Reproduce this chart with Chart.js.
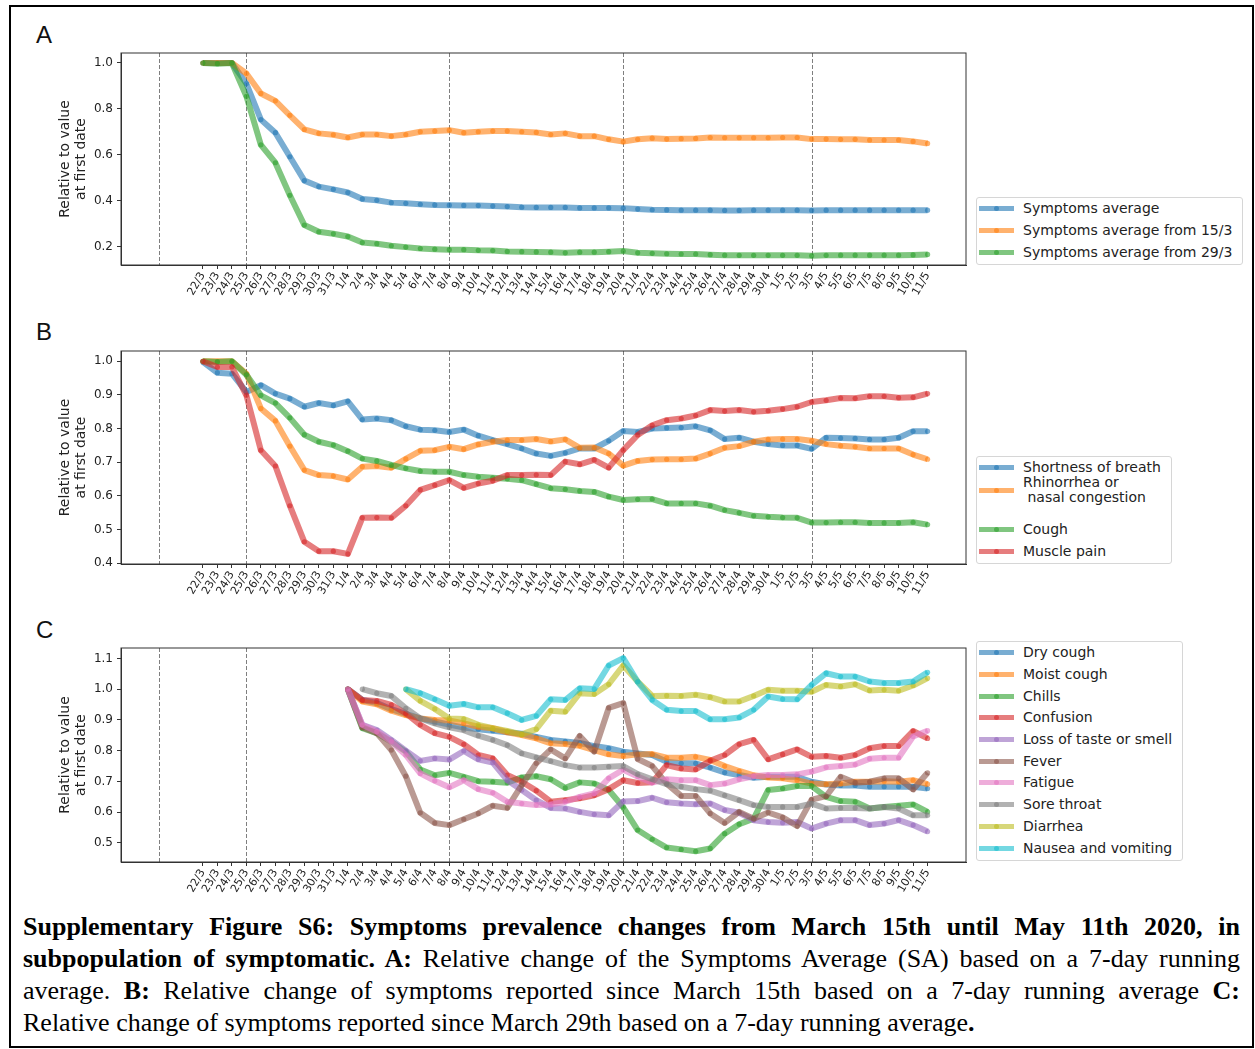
<!DOCTYPE html>
<html>
<head>
<meta charset="utf-8">
<title>Symptoms prevalence changes</title>
<script src="https://cdn.jsdelivr.net/npm/chart.js@4.4.1/dist/chart.umd.min.js"></script>
<style>
    body {
        margin: 0;
        width: 1255px;
        height: 1049px;
        position: relative;
        overflow: hidden;
        background: #fff;
        font-family: "DejaVu Sans", sans-serif;
    }

    .frame {
        position: absolute;
        left: 9px;
        top: 5px;
        width: 1241px;
        height: 1039px;
        border: 2px solid #000;
    }

    .panel-letter {
        position: absolute;
        left: 36px;
        font: 24px/24px "Liberation Sans", Arial, sans-serif;
        color: #111;
    }

    .chart-box {
        position: absolute;
        left: 0;
    }

    .legend-container {
        position: absolute;
        left: 976px;
        border: 1px solid #d6d6d6;
        border-radius: 3px;
        padding: 0 10px 1px 2px;
        background: #fff;
    }

    .legend-label {
        display: flex;
        align-items: center;
        height: 21.7px;
        font-size: 14px;
        color: #222;
        white-space: pre;
    }

    .legend-color {
        flex: none;
        width: 35px;
        height: 5px;
        margin-right: 9px;
        position: relative;
    }

    .legend-color::after {
        content: "";
        position: absolute;
        left: 15px;
        top: 0;
        width: 5px;
        height: 5px;
        border-radius: 50%;
        background: inherit;
    }

    .legend-text {
        line-height: 15px;
    }

    .caption {
        position: absolute;
        left: 23px;
        top: 911px;
        width: 1217px;
        font-family: "Liberation Serif", "Times New Roman", serif;
        font-size: 26px;
        line-height: 32px;
        color: #000;
    }

    .cap-line {
        text-align: justify;
        text-align-last: justify;
    }

    .cap-line.last {
        text-align-last: left;
    }
</style>
</head>
<body>
<div class="frame"></div>

<div class="panel-letter" style="top:23px">A</div>
<div class="panel-letter" style="top:320px">B</div>
<div class="panel-letter" style="top:618px">C</div>

<canvas class="chart-box my-chartA" width="970" height="268" style="top:40px"></canvas>
<canvas class="chart-box my-chartB" width="970" height="270" style="top:338px"></canvas>
<canvas class="chart-box my-chartC" width="970" height="270" style="top:636px"></canvas>

<div class="legend-container legendA" style="top:197px"></div>
<div class="legend-container legendB" style="top:456px"></div>
<div class="legend-container legendC" style="top:641px"></div>

<div class="caption">
    <div class="cap-line"><b>Supplementary Figure S6: Symptoms prevalence changes from March 15th until May 11th 2020, in</b></div>
    <div class="cap-line"><b>subpopulation of symptomatic. A:</b> Relative change of the Symptoms Average (SA) based on a 7-day running</div>
    <div class="cap-line">average. <b>B:</b> Relative change of symptoms reported since March 15th based on a 7-day running average <b>C:</b></div>
    <div class="cap-line last">Relative change of symptoms reported since March 29th based on a 7-day running average<b>.</b></div>
</div>

<script>
// x axis: one tick per day, 22/3 is day 0
const dayLabels = [
    "22/3", "23/3", "24/3", "25/3", "26/3", "27/3", "28/3", "29/3", "30/3", "31/3",
    "1/4", "2/4", "3/4", "4/4", "5/4", "6/4", "7/4", "8/4", "9/4", "10/4",
    "11/4", "12/4", "13/4", "14/4", "15/4", "16/4", "17/4", "18/4", "19/4", "20/4",
    "21/4", "22/4", "23/4", "24/4", "25/4", "26/4", "27/4", "28/4", "29/4", "30/4",
    "1/5", "2/5", "3/5", "4/5", "5/5", "6/5", "7/5", "8/5", "9/5", "10/5", "11/5",
];

// dashed vertical lines (day index, 19/3 = -3)
const eventDays = [-3, 3, 17, 29, 42];

// y tick labels for each panel
const yTicksA = [0.2, 0.4, 0.6, 0.8, 1.0];
const yTicksB = [0.4, 0.5, 0.6, 0.7, 0.8, 0.9, 1.0];
const yTicksC = [0.5, 0.6, 0.7, 0.8, 0.9, 1.0, 1.1];

// Panel A data (from 22/3)
const labelsA = ["Symptoms average", "Symptoms average from 15/3", "Symptoms average from 29/3"];
const symptomsAverage = [
    1.0, 1.0, 1.0, 0.91, 0.753, 0.696, 0.591, 0.487, 0.461, 0.449,
    0.435, 0.407, 0.401, 0.391, 0.388, 0.384, 0.381, 0.38, 0.379, 0.378,
    0.376, 0.374, 0.371, 0.37, 0.37, 0.37, 0.368, 0.368, 0.368, 0.367,
    0.363, 0.36, 0.359, 0.358, 0.358, 0.358, 0.357, 0.357, 0.358, 0.358,
    0.358, 0.358, 0.357, 0.358, 0.358, 0.358, 0.358, 0.358, 0.358, 0.358, 0.358,
];
const symptomsFrom15 = [
    1.0, 1.0, 1.0, 0.954, 0.867, 0.835, 0.772, 0.71, 0.693, 0.687,
    0.675, 0.688, 0.688, 0.681, 0.688, 0.70, 0.703, 0.707, 0.696, 0.70,
    0.703, 0.703, 0.70, 0.697, 0.688, 0.693, 0.681, 0.681, 0.667, 0.657,
    0.667, 0.672, 0.668, 0.67, 0.671, 0.675, 0.674, 0.674, 0.674, 0.674,
    0.675, 0.675, 0.668, 0.668, 0.667, 0.667, 0.664, 0.664, 0.664, 0.658, 0.649,
];
const symptomsFrom29 = [
    1.0, 0.997, 1.0, 0.855, 0.643, 0.565, 0.423, 0.293, 0.264, 0.255,
    0.243, 0.217, 0.212, 0.203, 0.197, 0.191, 0.188, 0.186, 0.186, 0.183,
    0.182, 0.178, 0.177, 0.176, 0.175, 0.172, 0.175, 0.175, 0.177, 0.18,
    0.172, 0.17, 0.168, 0.167, 0.167, 0.164, 0.162, 0.161, 0.161, 0.161,
    0.161, 0.161, 0.159, 0.161, 0.162, 0.162, 0.162, 0.162, 0.162, 0.163, 0.165,
];

// Panel B data (from 22/3)
const labelsB = ["Shortness of breath", "Rhinorrhea or\n nasal congestion", "Cough", "Muscle pain"];
const shortnessOfBreath = [
    0.998, 0.966, 0.963, 0.909, 0.929, 0.904, 0.889, 0.865, 0.876, 0.869,
    0.881, 0.827, 0.83, 0.825, 0.807, 0.797, 0.795, 0.79, 0.797, 0.779,
    0.766, 0.754, 0.741, 0.726, 0.719, 0.728, 0.741, 0.741, 0.764, 0.793,
    0.79, 0.80, 0.802, 0.803, 0.807, 0.795, 0.769, 0.773, 0.761, 0.754,
    0.75, 0.75, 0.74, 0.773, 0.772, 0.771, 0.768, 0.768, 0.773, 0.792, 0.792,
];
const rhinorrhea = [
    1.0, 1.0, 1.0, 0.963, 0.86, 0.823, 0.748, 0.677, 0.662, 0.659,
    0.649, 0.687, 0.689, 0.684, 0.71, 0.734, 0.736, 0.746, 0.739, 0.753,
    0.761, 0.766, 0.766, 0.769, 0.762, 0.768, 0.743, 0.744, 0.726, 0.69,
    0.704, 0.708, 0.709, 0.709, 0.711, 0.726, 0.743, 0.748, 0.761, 0.768,
    0.769, 0.769, 0.764, 0.754, 0.749, 0.746, 0.741, 0.741, 0.741, 0.723, 0.709,
];
const cough = [
    1.0, 0.998, 1.0, 0.96, 0.899, 0.876, 0.832, 0.782, 0.761, 0.751,
    0.733, 0.711, 0.704, 0.692, 0.682, 0.674, 0.672, 0.672, 0.662, 0.657,
    0.654, 0.651, 0.647, 0.635, 0.623, 0.62, 0.615, 0.612, 0.598, 0.588,
    0.59, 0.591, 0.578, 0.578, 0.578, 0.571, 0.558, 0.55, 0.541, 0.538,
    0.536, 0.535, 0.521, 0.521, 0.522, 0.522, 0.52, 0.52, 0.52, 0.522, 0.515,
];
const musclePain = [
    1.0, 0.983, 0.983, 0.899, 0.736, 0.689, 0.571, 0.464, 0.436, 0.436,
    0.428, 0.535, 0.536, 0.535, 0.571, 0.618, 0.632, 0.647, 0.624, 0.637,
    0.645, 0.662, 0.662, 0.663, 0.662, 0.702, 0.694, 0.707, 0.684, 0.736,
    0.781, 0.81, 0.825, 0.83, 0.839, 0.855, 0.852, 0.855, 0.85, 0.853,
    0.858, 0.865, 0.879, 0.884, 0.891, 0.89, 0.896, 0.896, 0.892, 0.893, 0.904,
];

// Panel C data (series start on different days, see startC)
const labelsC = ["Dry cough", "Moist cough", "Chills", "Confusion", "Loss of taste or smell",
    "Fever", "Fatigue", "Sore throat", "Diarrhea", "Nausea and vomiting"];
const startC = [10, 10, 10, 10, 10, 10, 10, 11, 14, 14];
const dryCough = [
    1.0, 0.965, 0.955, 0.935, 0.92, 0.905, 0.895, 0.885,
    0.875, 0.87, 0.865, 0.86, 0.855, 0.845, 0.835, 0.83, 0.825, 0.815, 0.808,
    0.797, 0.791, 0.786, 0.764, 0.759, 0.759, 0.745,
    0.729, 0.721, 0.712, 0.715, 0.715, 0.715, 0.699,
    0.69, 0.687, 0.687, 0.683, 0.683, 0.683, 0.683, 0.677,
];
const moistCough = [
    1.0, 0.96, 0.951, 0.93, 0.916, 0.905, 0.9, 0.898,
    0.889, 0.878, 0.873, 0.86, 0.851, 0.84, 0.824, 0.822, 0.816, 0.802, 0.788,
    0.783, 0.788, 0.789, 0.777, 0.777, 0.78, 0.77,
    0.75, 0.734, 0.72, 0.713, 0.71, 0.704, 0.693,
    0.691, 0.693, 0.699, 0.699, 0.701, 0.699, 0.704, 0.691,
];
const chills = [
    1.0, 0.873, 0.857, 0.829, 0.797, 0.739, 0.72, 0.728,
    0.715, 0.701, 0.699, 0.696, 0.713, 0.717, 0.707, 0.679, 0.697, 0.693, 0.672,
    0.616, 0.542, 0.512, 0.485, 0.479, 0.473, 0.482,
    0.53, 0.561, 0.579, 0.672, 0.677, 0.685, 0.685,
    0.65, 0.636, 0.634, 0.612, 0.617, 0.621, 0.625, 0.601,
];
const confusion = [
    1.0, 0.965, 0.962, 0.949, 0.922, 0.884, 0.857, 0.845,
    0.821, 0.786, 0.775, 0.721, 0.699, 0.67, 0.634, 0.639, 0.645, 0.655, 0.675,
    0.704, 0.695, 0.697, 0.753, 0.742, 0.739, 0.767,
    0.786, 0.821, 0.835, 0.772, 0.788, 0.804, 0.78,
    0.783, 0.777, 0.786, 0.808, 0.815, 0.815, 0.864, 0.84,
];
const lossOfTaste = [
    1.0, 0.884, 0.867, 0.835, 0.8, 0.767, 0.775, 0.771,
    0.799, 0.772, 0.761, 0.704, 0.672, 0.639, 0.614, 0.612, 0.601, 0.593, 0.59,
    0.635, 0.636, 0.647, 0.632, 0.628, 0.626, 0.628,
    0.607, 0.598, 0.574, 0.568, 0.566, 0.568, 0.547,
    0.563, 0.574, 0.574, 0.558, 0.563, 0.574, 0.558, 0.537,
];
const fever = [
    1.0, 0.876, 0.857, 0.802, 0.717, 0.598, 0.565, 0.558,
    0.577, 0.596, 0.621, 0.614, 0.688, 0.759, 0.804, 0.775, 0.848, 0.797, 0.939,
    0.955, 0.773, 0.75, 0.693, 0.653, 0.653, 0.596,
    0.565, 0.601, 0.579, 0.599, 0.583, 0.555, 0.641,
    0.652, 0.715, 0.696, 0.699, 0.71, 0.71, 0.674, 0.728,
];
const fatigue = [
    1.0, 0.884, 0.862, 0.829, 0.786, 0.726, 0.702, 0.681,
    0.704, 0.675, 0.663, 0.634, 0.628, 0.623, 0.625, 0.634, 0.65, 0.661, 0.71,
    0.738, 0.716, 0.696, 0.707, 0.704, 0.704, 0.688,
    0.693, 0.707, 0.717, 0.721, 0.721, 0.723, 0.732,
    0.746, 0.75, 0.755, 0.774, 0.777, 0.777, 0.846, 0.865,
];
const soreThroat = [
    1.0, 0.987, 0.978, 0.938, 0.905, 0.889, 0.876,
    0.867, 0.849, 0.835, 0.818, 0.791, 0.778, 0.766, 0.753, 0.745, 0.745, 0.748,
    0.75, 0.724, 0.707, 0.691, 0.683, 0.675, 0.67,
    0.655, 0.639, 0.623, 0.617, 0.617, 0.617, 0.628,
    0.612, 0.614, 0.614, 0.612, 0.617, 0.612, 0.59, 0.59,
];
const diarrhea = [
    1.0, 0.962, 0.936, 0.905,
    0.903, 0.884, 0.873, 0.864, 0.853, 0.87, 0.93, 0.927, 0.987, 0.984, 1.016,
    1.077, 1.025, 0.978, 0.979, 0.978, 0.982, 0.974,
    0.96, 0.96, 0.978, 0.998, 0.995, 0.995, 0.992,
    1.014, 1.009, 1.016, 0.996, 0.998, 0.995, 1.012, 1.036,
];
const nausea = [
    1.0, 0.987, 0.967, 0.946,
    0.952, 0.941, 0.941, 0.922, 0.9, 0.913, 0.967, 0.965, 1.003, 1.001, 1.077,
    1.101, 1.024, 0.965, 0.933, 0.929, 0.929, 0.902,
    0.902, 0.908, 0.933, 0.976, 0.968, 0.967, 1.014,
    1.052, 1.041, 1.041, 1.025, 1.02, 1.02, 1.025, 1.055,
];

// matplotlib tab10, drawn with alpha 0.6
const colors = [
    "rgba(31,119,180,0.6)", "rgba(255,127,14,0.6)", "rgba(44,160,44,0.6)", "rgba(214,39,40,0.6)",
    "rgba(148,103,189,0.6)", "rgba(140,86,75,0.6)", "rgba(227,119,194,0.6)", "rgba(127,127,127,0.6)",
    "rgba(188,189,34,0.6)", "rgba(23,190,207,0.6)",
];

const fontFamily = "'DejaVu Sans', sans-serif";
const axisColor = "#333";
const textColor = "#222";

function toPoints(values, startDay) {
    return values.map((v, i) => ({ x: startDay + i, y: v }));
}

function makeDatasets(labels, series, starts) {
    return series.map((values, index) => ({
        label: labels[index],
        data: toPoints(values, starts ? starts[index] : 0),
        borderColor: colors[index],
        backgroundColor: colors[index],
        borderWidth: 6,
        borderJoinStyle: "round",
        pointRadius: 2.6,
        pointBorderWidth: 0,
        pointBackgroundColor: colors[index],
        tension: 0,
        fill: false,
        order: -index, // later series on top, like matplotlib
    }));
}

// dashed day markers + the box around the plot
const panelDecor = {
    id: "panelDecor",
    beforeDatasetsDraw(chart) {
        const { ctx, chartArea, scales } = chart;
        ctx.save();
        ctx.strokeStyle = "rgba(0,0,0,0.5)";
        ctx.lineWidth = 1;
        ctx.setLineDash([4, 2]);
        eventDays.forEach((day) => {
            const x = Math.round(scales.x.getPixelForValue(day)) + 0.5;
            ctx.beginPath();
            ctx.moveTo(x, chartArea.top);
            ctx.lineTo(x, chartArea.bottom);
            ctx.stroke();
        });
        ctx.restore();
    },
    afterDraw(chart) {
        const { ctx, chartArea } = chart;
        ctx.save();
        ctx.strokeStyle = axisColor;
        ctx.lineWidth = 1;
        ctx.strokeRect(chartArea.left, chartArea.top, chartArea.right - chartArea.left, chartArea.bottom - chartArea.top);
        ctx.restore();
    },
};

function makeChart(selector, datasets, yMin, yMax, yTicks, padTop, xHeight) {
    return new Chart(document.querySelector(selector), {
        type: "line",
        data: { datasets: datasets },
        options: {
            responsive: false,
            animation: false,
            layout: {
                padding: { top: padTop, left: 58, right: 4, bottom: 0 },
            },
            plugins: {
                legend: { display: false },
                tooltip: { enabled: false },
            },
            scales: {
                x: {
                    type: "linear",
                    min: -5.65,
                    max: 52.65,
                    afterBuildTicks: (axis) => {
                        axis.ticks = dayLabels.map((label, i) => ({ value: i }));
                    },
                    afterFit: (axis) => {
                        axis.height = xHeight;
                    },
                    ticks: {
                        autoSkip: false,
                        minRotation: 60,
                        maxRotation: 60,
                        padding: 1,
                        color: textColor,
                        font: { family: fontFamily, size: 11 },
                        callback: (value) => dayLabels[value],
                    },
                    grid: {
                        drawOnChartArea: false,
                        drawTicks: true,
                        tickLength: 4,
                        color: axisColor,
                    },
                    border: { display: true, color: axisColor },
                },
                y: {
                    min: yMin,
                    max: yMax,
                    afterBuildTicks: (axis) => {
                        axis.ticks = yTicks.map((v) => ({ value: v }));
                    },
                    afterFit: (axis) => {
                        axis.width = 63;
                    },
                    ticks: {
                        padding: 4,
                        color: textColor,
                        font: { family: fontFamily, size: 12 },
                        callback: (value) => value.toFixed(1),
                    },
                    title: {
                        display: true,
                        text: ["Relative to value", "at first date"],
                        color: textColor,
                        font: { family: fontFamily, size: 14, lineHeight: 1.1 },
                        padding: { top: 0, bottom: 0 },
                    },
                    grid: {
                        drawOnChartArea: false,
                        drawTicks: true,
                        tickLength: 4,
                        color: axisColor,
                    },
                    border: { display: true, color: axisColor },
                },
            },
        },
        plugins: [panelDecor],
    });
}

// Chart A
const myChartA = makeChart(".my-chartA",
    makeDatasets(labelsA, [symptomsAverage, symptomsFrom15, symptomsFrom29]),
    0.119, 1.0435, yTicksA, 13, 43);

// Chart B
const myChartB = makeChart(".my-chartB",
    makeDatasets(labelsB, [shortnessOfBreath, rhinorrhea, cough, musclePain]),
    0.398, 1.0305, yTicksB, 13, 44);

// Chart C
const myChartC = makeChart(".my-chartC",
    makeDatasets(labelsC, [dryCough, moistCough, chills, confusion, lossOfTaste,
        fever, fatigue, soreThroat, diarrhea, nausea], startC),
    0.438, 1.134, yTicksC, 12, 44);

// HTML legends, one row per series
function generateLegend(container, labels, rowStyles) {
    const legendLabels = labels.map((label, index) => {
        const extra = rowStyles && rowStyles[index] ? rowStyles[index] : "";
        return `<div class="legend-label" style="${extra}">
                    <span class="legend-color" style="background-color: ${colors[index]}"></span>
                    <span class="legend-text">${label}</span>
                </div>`;
    });
    document.querySelector(container).innerHTML = legendLabels.join("");
}

generateLegend(".legendA", labelsA);
generateLegend(".legendB", labelsB, ["", "height:30px; margin-top:-3.7px; margin-bottom:13.5px;", "", ""]);
generateLegend(".legendC", labelsC);
</script>
</body>
</html>
